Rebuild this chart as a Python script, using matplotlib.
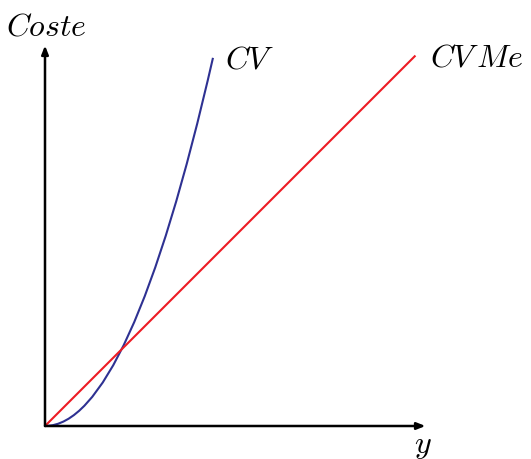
import matplotlib.pyplot as plt
from matplotlib.path import Path
from matplotlib.patches import PathPatch

# ----- Datos (unidades económicas) -----
# CV: curva cuadrática dada por sus puntos de control (inicio, control, fin)
cv_ctrl_y = [0.0, 1.095, 2.19]
cv_ctrl_c = [0.0, 0.0, 4.80]
cvme_y = [0.0, 4.83]
cvme_vals = [0.0, 4.83]
x_axis_end = 4.96
y_axis_end = 4.96

# ----- Estilo -----
BLUE = "#2e3192"
RED = "#ed1c24"
U = 76.7  # píxeles por unidad
OX, OY = 45, 427  # origen en píxeles
W, H = 531, 460

plt.rcParams['mathtext.fontset'] = 'cm'

fig = plt.figure(figsize=(W / 100, H / 100), dpi=100)
ax = fig.add_axes([0, 0, 1, 1])
ax.set_xlim(-OX / U, (W - OX) / U)
ax.set_ylim(-(H - OY) / U, OY / U)
ax.axis('off')

# ejes con flecha
arrow = dict(arrowstyle='-|>,head_length=0.5,head_width=0.2', color='black',
             lw=1.8, shrinkA=0, shrinkB=0)
ax.annotate('', xy=(x_axis_end, 0), xytext=(0, 0), arrowprops=arrow)
ax.annotate('', xy=(0, y_axis_end), xytext=(0, 0), arrowprops=arrow)

# curvas
cv_path = Path(list(zip(cv_ctrl_y, cv_ctrl_c)), [Path.MOVETO, Path.CURVE3, Path.CURVE3])
ax.add_patch(PathPatch(cv_path, facecolor='none', edgecolor=BLUE, lw=1.5))
ax.plot(cvme_y, cvme_vals, color=RED, lw=1.5, solid_capstyle='butt')

# etiquetas
fs = 23
ax.text(0.02, 5.21, r'$Coste$', fontsize=fs, ha='center', va='center')
ax.text(x_axis_end - 0.03, -0.235, r'$y$', fontsize=fs, ha='center', va='center')
ax.text(cv_ctrl_y[-1] + 0.16, cv_ctrl_c[-1] - 0.02, r'$CV$', fontsize=fs, ha='left', va='center')
ax.text(cvme_y[-1] + 0.19, cvme_vals[-1] - 0.02, r'$CV\,Me$', fontsize=fs, ha='left', va='center')

fig.savefig('out.png', dpi=100)
